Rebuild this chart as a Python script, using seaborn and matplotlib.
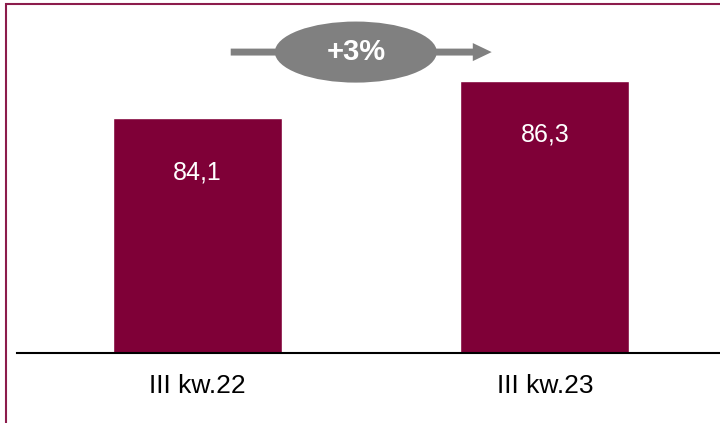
import matplotlib
matplotlib.use("Agg")
import matplotlib.pyplot as plt
import seaborn as sns
from matplotlib.patches import Ellipse, Rectangle

# dane
kategorie = ["III kw.22", "III kw.23"]
wartosci = [84.1, 86.3]
etykiety = ["84,1", "86,3"]
zmiana = "+3%"

bordo = "#7F0037"
szary = "#808080"

sns.set_theme(style="white")
plt.rcParams["font.family"] = ["Liberation Sans", "DejaVu Sans"]

fig = plt.figure(figsize=(7.2, 4.23), dpi=100)
ax = fig.add_axes([17 / 720, 70 / 423, 1 - 17 / 720, 353 / 423])

sns.barplot(x=kategorie, y=wartosci, color=bordo, saturation=1, width=0.486, ax=ax)

ax.set_xlim(-0.519, 1.504)
ax.set_ylim(70.24, 91.05)

# etykiety wartosci wewnatrz slupkow
for i, (v, t) in enumerate(zip(wartosci, etykiety)):
    ax.annotate(t, xy=(i, v), xytext=(0, -39), textcoords="offset points",
                ha="center", va="center", color="white", fontsize=18)

# strzalka ze zmiana procentowa
ax.annotate("", xy=(0.847, 87.98), xytext=(0.096, 87.98),
            arrowprops=dict(arrowstyle="simple,tail_width=0.25,head_width=0.65,head_length=0.68",
                            mutation_scale=20, color=szary, lw=0, shrinkA=0, shrinkB=0))
ax.add_patch(Ellipse((0.456, 87.98), 0.466, 3.6, color=szary, lw=0, zorder=3))
ax.text(0.456, 87.98, zmiana, ha="center", va="center", color="white",
        fontsize=21, fontweight="bold", zorder=4)

# osie
for s in ["top", "left", "right"]:
    ax.spines[s].set_visible(False)
ax.spines["bottom"].set_color("black")
ax.spines["bottom"].set_linewidth(1.5)
ax.set_yticks([])
ax.set_xlabel("")
ax.set_ylabel("")
ax.tick_params(axis="x", length=0, pad=15, labelsize=19, colors="black")
ax.patch.set_alpha(0)

# ramka
fig.add_artist(Rectangle((6 / 720, -0.05), 1.0, 1 - 4 / 423 + 0.05,
                         transform=fig.transFigure, fill=False,
                         edgecolor="#8C1C4C", linewidth=1.5))

fig.savefig("out.png", dpi=100)
